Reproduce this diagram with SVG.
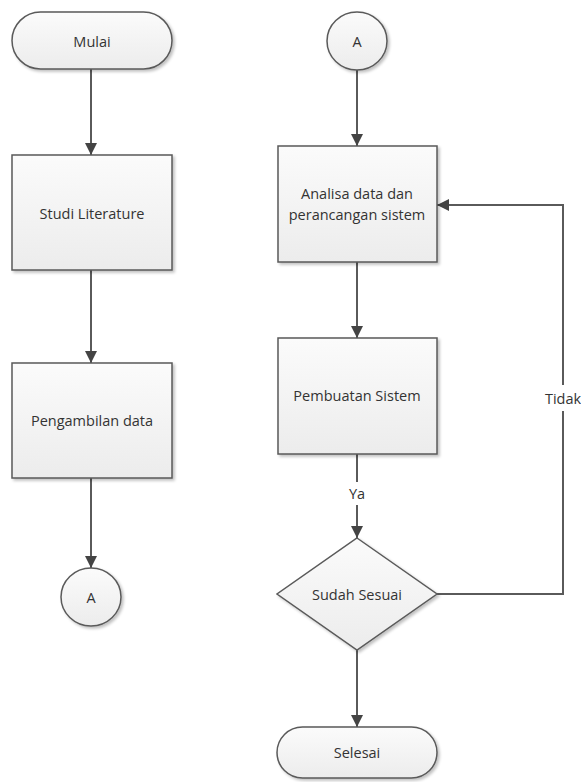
<svg xmlns="http://www.w3.org/2000/svg" width="581" height="782" viewBox="0 0 581 782">
<defs>
<linearGradient id="g" x1="0" y1="0" x2="0" y2="1">
<stop offset="0" stop-color="#fbfbfb"/>
<stop offset="1" stop-color="#ececec"/>
</linearGradient>
<filter id="sh" x="-10%" y="-10%" width="125%" height="125%">
<feGaussianBlur in="SourceAlpha" stdDeviation="1.5"/>
<feOffset dx="1.5" dy="2" result="b"/>
<feComponentTransfer><feFuncA type="linear" slope="0.25"/></feComponentTransfer>
<feMerge><feMergeNode/><feMergeNode in="SourceGraphic"/></feMerge>
</filter>
<marker id="ah" viewBox="0 0 12 12" refX="12" refY="6" markerWidth="12" markerHeight="12" markerUnits="userSpaceOnUse" orient="auto">
<path d="M0,0 L12,6 L0,12 z" fill="#444"/>
</marker>
</defs>
<style>
.s{fill:url(#g);stroke:#5a5a5a;stroke-width:1.5;filter:url(#sh)}
.t{font-family:"Open Sans","Liberation Sans",Arial,sans-serif;font-size:14.5px;fill:#333;text-anchor:middle;dominant-baseline:central}
.c{fill:none;stroke:#5a5a5a;stroke-width:2}
</style>
<rect width="581" height="782" fill="#fff"/>
<g id="connectors">
<path class="c" d="M91,69 V155" marker-end="url(#ah)"/>
<path class="c" d="M91,270 V363" marker-end="url(#ah)"/>
<path class="c" d="M91,478 V568" marker-end="url(#ah)"/>
<path class="c" d="M357,70 V146" marker-end="url(#ah)"/>
<path class="c" d="M357,262 V338" marker-end="url(#ah)"/>
<path class="c" d="M357,454 V482 M357,505 V538" marker-end="url(#ah)"/>
<path class="c" d="M357,650 V727" marker-end="url(#ah)"/>
<path class="c" d="M437,594 H563 V411 M563,385 V205 H437" marker-end="url(#ah)"/>
<text class="t" x="357" y="493">Ya</text>
<text class="t" x="563" y="398">Tidak</text>
</g>
<g id="mulai">
<rect class="s" x="12" y="12" width="160" height="57" rx="28.5"/>
<text class="t" x="92" y="41">Mulai</text>
</g>
<g id="studi">
<rect class="s" x="12" y="155" width="160" height="115"/>
<text class="t" x="92" y="213">Studi Literature</text>
</g>
<g id="pengambilan">
<rect class="s" x="12" y="363" width="160" height="115"/>
<text class="t" x="92" y="420">Pengambilan data</text>
</g>
<g id="a1">
<ellipse class="s" cx="91" cy="597" rx="30" ry="29"/>
<text class="t" x="91" y="597">A</text>
</g>
<g id="a2">
<ellipse class="s" cx="357" cy="41" rx="30" ry="29"/>
<text class="t" x="357" y="41">A</text>
</g>
<g id="analisa">
<rect class="s" x="278" y="146" width="159" height="116"/>
<text class="t" x="357" y="193">Analisa data dan</text>
<text class="t" x="357" y="214">perancangan sistem</text>
</g>
<g id="pembuatan">
<rect class="s" x="278" y="338" width="159" height="116"/>
<text class="t" x="357" y="395">Pembuatan Sistem</text>
</g>
<g id="sudah">
<path class="s" d="M357,538 L437,594 L357,650 L277,594 z"/>
<text class="t" x="357" y="594">Sudah Sesuai</text>
</g>
<g id="selesai">
<rect class="s" x="277" y="727" width="160" height="51" rx="25.5"/>
<text class="t" x="357" y="752">Selesai</text>
</g>
</svg>
